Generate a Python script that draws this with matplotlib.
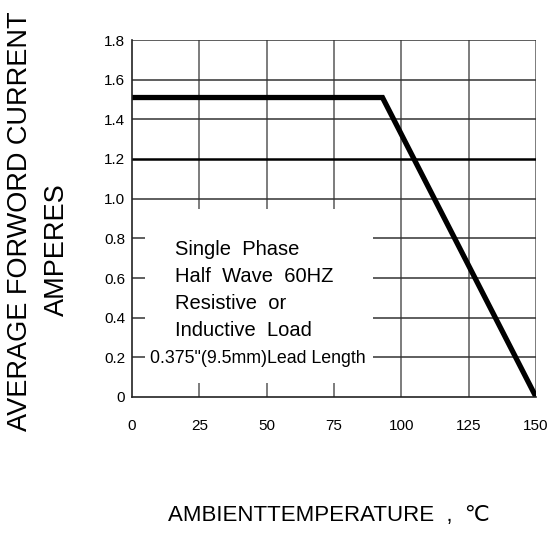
import matplotlib
matplotlib.use("Agg")
from matplotlib import pyplot as plt
from matplotlib import font_manager
from matplotlib.patches import Rectangle

# derating curve
temp = [0, 93, 150]
current = [1.51, 1.51, 0.0]

x_ticks = [0, 25, 50, 75, 100, 125, 150]
y_ticks = [0, 0.2, 0.4, 0.6, 0.8, 1.0, 1.2, 1.4, 1.6, 1.8]
y_tick_labels = ["0", "0.2", "0.4", "0.6", "0.8", "1.0", "1.2", "1.4", "1.6", "1.8"]

note_lines = ["Single  Phase", "Half  Wave  60HZ", "Resistive  or", "Inductive  Load"]
note_last = "0.375\"(9.5mm)Lead Length"

names = {f.name for f in font_manager.fontManager.ttflist}
narrow = "Liberation Sans Narrow" if "Liberation Sans Narrow" in names else "Liberation Sans"
plt.rcParams["font.family"] = ["Liberation Sans", "DejaVu Sans"]

fig = plt.figure(figsize=(5.5, 5.34), dpi=100)
ax = fig.add_axes([132 / 550, 137 / 534, 404 / 550, 357 / 534])

ax.set_xlim(0, 150)
ax.set_ylim(0, 1.8)
ax.set_xticks(x_ticks)
ax.set_yticks(y_ticks)
ax.set_yticklabels(y_tick_labels)
ax.tick_params(axis="both", length=0, labelsize=11)
ax.tick_params(axis="x", pad=16)
ax.tick_params(axis="y", pad=5)

for s in ["top", "right"]:
    ax.spines[s].set_visible(False)
for s in ["left", "bottom"]:
    ax.spines[s].set_color("#222222")
    ax.spines[s].set_linewidth(1.2)
    ax.spines[s].set_zorder(5)

# grid
for xv in x_ticks[1:]:
    ax.axvline(xv, color="#666666", lw=1.2, zorder=1)
for yv in y_ticks[1:]:
    if abs(yv - 1.2) < 1e-9:
        ax.axhline(yv, color="black", lw=1.8, zorder=1)
    else:
        ax.axhline(yv, color="#333333", lw=1.1, zorder=1)

# white panel behind the note
ax.add_patch(Rectangle((4.8, 0.07), 84.7, 0.88, facecolor="white",
                       edgecolor="none", zorder=2))

ax.plot(temp, current, color="black", lw=3.8, solid_capstyle="round",
        solid_joinstyle="miter", zorder=4)

for i, line in enumerate(note_lines):
    ax.text(16.0, 0.745 - i * 0.137, line, fontsize=14.5, ha="left",
            va="center", zorder=3)
ax.text(6.5, 0.195, note_last, fontsize=12.8, ha="left", va="center",
        family=[narrow, "DejaVu Sans"], zorder=3)

fig.text(20 / 550, 1 - 221 / 534, "AVERAGE FORWORD CURRENT", rotation=90,
         fontsize=19.5, ha="center", va="center")
fig.text(57 / 550, 1 - 250 / 534, "AMPERES", rotation=90,
         fontsize=19.5, ha="center", va="center")
fig.text(168 / 550, 1 - 516 / 534, "AMBIENTTEMPERATURE  ,  \u2103",
         fontsize=16, ha="left", va="center",
         family=[narrow, "DejaVu Sans"])

fig.savefig("out.png", dpi=100)
